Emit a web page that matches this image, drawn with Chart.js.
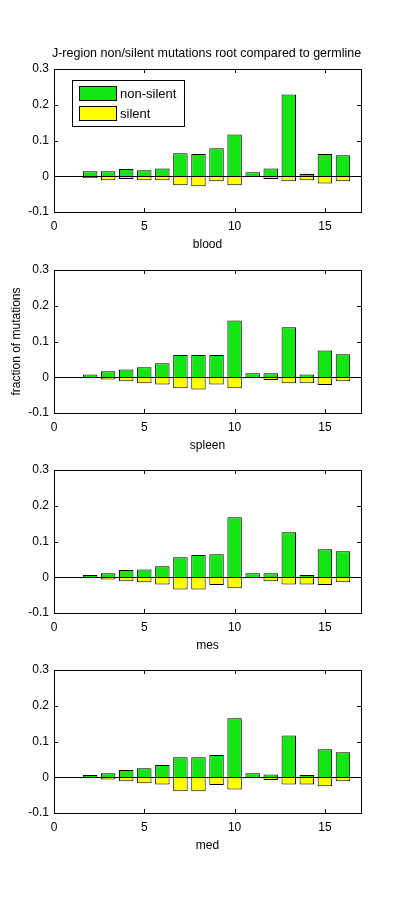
<!DOCTYPE html>
<html>
<head>
<meta charset="utf-8">
<script src="https://cdn.jsdelivr.net/npm/chart.js@4"></script>
<style>
    body { margin: 0; background: #fff; }
    #wrap { position: relative; width: 399px; height: 915px; background: #fff; }
    canvas { position: absolute; left: 0; }
</style>
</head>
<body>
<div id="wrap">
    <canvas id="c0" width="399" height="215" style="top:39px"></canvas>
    <canvas id="c1" width="399" height="215" style="top:240px"></canvas>
    <canvas id="c2" width="399" height="215" style="top:440px"></canvas>
    <canvas id="c3" width="399" height="215" style="top:640px"></canvas>
</div>
<script>
// posiciones de las regiones J
const posiciones = [2, 3, 4, 5, 6, 7, 8, 9, 10, 11, 12, 13, 14, 15, 16];

const bloodNoSil = [0.014, 0.014, 0.020, 0.017, 0.022, 0.064, 0.062, 0.078, 0.117, 0.011, 0.022, 0.229, 0.006, 0.062, 0.059];
const bloodSil   = [-0.005, -0.011, -0.008, -0.011, -0.011, -0.025, -0.028, -0.014, -0.025, 0, -0.008, -0.014, -0.011, -0.020, -0.014];

const spleenNoSil = [0.008, 0.017, 0.022, 0.028, 0.039, 0.062, 0.062, 0.062, 0.159, 0.011, 0.011, 0.140, 0.008, 0.075, 0.064];
const spleenSil   = [-0.003, -0.006, -0.011, -0.017, -0.020, -0.031, -0.034, -0.020, -0.031, 0, -0.008, -0.017, -0.017, -0.022, -0.011];

const mesNoSil = [0.006, 0.011, 0.020, 0.022, 0.031, 0.056, 0.062, 0.064, 0.168, 0.011, 0.011, 0.126, 0.006, 0.078, 0.073];
const mesSil   = [-0.003, -0.006, -0.011, -0.014, -0.020, -0.034, -0.034, -0.022, -0.031, 0, -0.011, -0.020, -0.020, -0.022, -0.014];

const medNoSil = [0.006, 0.011, 0.020, 0.025, 0.034, 0.056, 0.056, 0.062, 0.165, 0.011, 0.008, 0.117, 0.006, 0.078, 0.070];
const medSil   = [-0.003, -0.006, -0.011, -0.017, -0.020, -0.039, -0.039, -0.022, -0.034, 0, -0.008, -0.020, -0.020, -0.025, -0.011];

const tejidos = ["blood", "spleen", "mes", "med"];
const series = [
    [bloodNoSil, bloodSil],
    [spleenNoSil, spleenSil],
    [mesNoSil, mesSil],
    [medNoSil, medSil]
];

const xTicks = [0, 5, 10, 15];
const yTicks = [-0.1, 0, 0.1, 0.2, 0.3];

const titulo = "J-region non/silent mutations root compared to germline";
const etiquetaY = "fraction of mutations";
const fuente = "'Liberation Sans', Arial, sans-serif";

// marco y marcas hacia adentro, estilo matlab
const marcoPlugin = {
    id: "marco",
    afterDatasetsDraw(chart, args, opts) {
        const { ctx, chartArea: a, scales } = chart;
        ctx.save();
        ctx.strokeStyle = "#000";
        ctx.lineWidth = 1;
        // linea de cero
        const y0 = Math.round(scales.y.getPixelForValue(0)) + 0.5;
        ctx.beginPath();
        ctx.moveTo(a.left, y0);
        ctx.lineTo(a.right, y0);
        ctx.stroke();
        ctx.strokeRect(Math.round(a.left) + 0.5, Math.round(a.top) + 0.5, Math.round(a.right - a.left), Math.round(a.bottom - a.top));
        const tl = 4;
        ctx.beginPath();
        yTicks.forEach(v => {
            const py = Math.round(scales.y.getPixelForValue(v)) + 0.5;
            ctx.moveTo(a.left, py); ctx.lineTo(a.left + tl, py);
            ctx.moveTo(a.right, py); ctx.lineTo(a.right - tl, py);
        });
        xTicks.forEach(v => {
            const px = Math.round(scales.x.getPixelForValue(v)) + 0.5;
            ctx.moveTo(px, a.bottom); ctx.lineTo(px, a.bottom - tl);
            ctx.moveTo(px, a.top); ctx.lineTo(px, a.top + tl);
        });
        ctx.stroke();

        if (opts.leyenda) {
            const ds = chart.data.datasets;
            const bx = 72.5, by = 41.5, bw = 112, bh = 46;
            ctx.fillStyle = "#fff";
            ctx.fillRect(bx, by, bw, bh);
            ctx.strokeRect(bx, by, bw, bh);
            ctx.font = "13px " + fuente;
            ctx.textBaseline = "middle";
            ds.forEach((d, i) => {
                const ry = by + 6 + i * 20;
                ctx.fillStyle = d.backgroundColor;
                ctx.fillRect(79.5, ry, 37, 14);
                ctx.strokeRect(79.5, ry, 37, 14);
                ctx.fillStyle = "#000";
                ctx.fillText(d.label, 120, ry + 7.5);
            });
        }
        if (opts.titulo) {
            ctx.font = "12.5px " + fuente;
            ctx.fillStyle = "#000";
            ctx.textAlign = "center";
            ctx.textBaseline = "middle";
            ctx.fillText(opts.titulo, (a.left + a.right) / 2 - 1, 15);
        }
        ctx.restore();
    }
};

function crearGrafico(idx) {
    const [noSil, sil] = series[idx];
    const ctx = document.getElementById("c" + idx).getContext("2d");
    return new Chart(ctx, {
        type: "bar",
        data: {
            datasets: [
                {
                    label: "non-silent",
                    data: posiciones.map((p, i) => ({ x: p, y: noSil[i] })),
                    backgroundColor: "#14e614",
                    borderColor: "#000",
                    borderWidth: 1,
                    grouped: false,
                    barPercentage: 0.8,
                    categoryPercentage: 1,
                    order: 1
                },
                {
                    label: "silent",
                    data: posiciones.map((p, i) => ({ x: p, y: sil[i] })),
                    backgroundColor: "#ffff00",
                    borderColor: "#000",
                    borderWidth: 1,
                    grouped: false,
                    barPercentage: 0.8,
                    categoryPercentage: 1,
                    order: 2
                }
            ]
        },
        options: {
            responsive: false,
            animation: false,
            layout: { padding: { top: 30, right: 38, left: 0, bottom: 0 } },
            plugins: {
                legend: { display: false },
                tooltip: { enabled: false },
                marco: {
                    leyenda: idx === 0,
                    titulo: idx === 0 ? titulo : null
                }
            },
            scales: {
                x: {
                    type: "linear",
                    min: 0,
                    max: 17,
                    offset: false,
                    grid: { display: false, drawTicks: false },
                    border: { display: false },
                    ticks: {
                        stepSize: 5,
                        includeBounds: false,
                        padding: 7,
                        color: "#000",
                        font: { family: fuente, size: 12 },
                        maxRotation: 0
                    },
                    title: {
                        display: true,
                        text: tejidos[idx],
                        color: "#000",
                        font: { family: fuente, size: 12 },
                        padding: { top: 0, bottom: 2 }
                    },
                    afterFit(scale) { scale.height = 42; }
                },
                y: {
                    min: -0.1,
                    max: 0.3,
                    grid: { display: false, drawTicks: false },
                    border: { display: false },
                    ticks: {
                        stepSize: 0.1,
                        padding: 5,
                        color: "#000",
                        font: { family: fuente, size: 12 },
                        callback: v => String(Number(v.toFixed(1)))
                    },
                    title: {
                        display: idx === 1,
                        text: etiquetaY,
                        color: "#000",
                        font: { family: fuente, size: 12 },
                        padding: { top: 9, bottom: 0 }
                    },
                    afterFit(scale) { scale.width = 54; }
                }
            }
        },
        plugins: [marcoPlugin]
    });
}

tejidos.forEach((t, i) => crearGrafico(i));
</script>
</body>
</html>
